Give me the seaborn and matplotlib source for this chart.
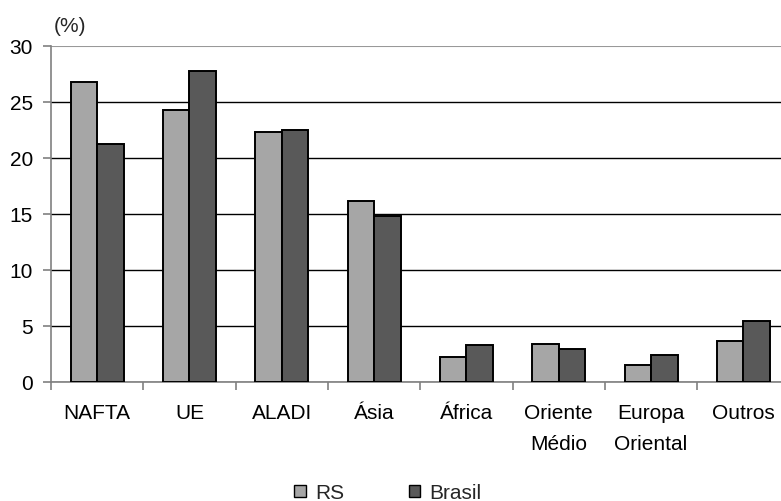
import matplotlib
matplotlib.use("Agg")
import matplotlib.pyplot as plt
from matplotlib.patches import Patch
import numpy as np
import pandas as pd
import seaborn as sns

# Participação por bloco econômico (%)
categories = ["NAFTA", "UE", "ALADI", "Ásia", "África", "Oriente\nMédio", "Europa\nOriental", "Outros"]
rs_values = [26.8, 24.3, 22.3, 16.1, 2.2, 3.4, 1.5, 3.6]
brasil_values = [21.2, 27.7, 22.5, 14.8, 3.3, 2.9, 2.4, 5.4]
series_names = ["RS", "Brasil"]
y_ticks = [0, 5, 10, 15, 20, 25, 30]

df = pd.DataFrame({
    "bloco": categories * 2,
    "serie": [series_names[0]] * len(categories) + [series_names[1]] * len(categories),
    "valor": rs_values + brasil_values,
})

sns.set_theme(style="white")
plt.rcParams["font.family"] = ["Liberation Sans", "DejaVu Sans"]
FS = 15
plt.rcParams["font.size"] = FS

colors = {"RS": "#a6a6a6", "Brasil": "#595959"}

fig = plt.figure(figsize=(7.81, 5.02), dpi=100)
ax = fig.add_axes([51 / 781, 1 - 382.7 / 502, (789.6 - 51) / 781, (382.7 - 46.7) / 502])

sns.barplot(data=df, x="bloco", y="valor", hue="serie", order=categories,
            hue_order=series_names, palette=colors, width=0.573, gap=0,
            edgecolor="black", linewidth=1.4, saturation=1, ax=ax,
            legend=False, zorder=3)

ax.set_xlim(-0.5, len(categories) - 0.5)
ax.set_ylim(0, 30)
ax.set_yticks(y_ticks)
ax.set_yticklabels([str(t) for t in y_ticks], fontsize=FS, color="black")
ax.set_xlabel("")
ax.set_ylabel("")

# horizontal gridlines
ax.yaxis.grid(True, color="black", linewidth=1.0, zorder=0)
ax.set_axisbelow(True)
grid_lines = ax.get_ygridlines()
grid_lines[-1].set_color("#999999")
grid_lines[-1].set_linewidth(1.5)

for side in ["top", "right"]:
    ax.spines[side].set_visible(False)
for side in ["left", "bottom"]:
    ax.spines[side].set_color("#808080")
    ax.spines[side].set_linewidth(1.2)

# category labels centered, tick marks on the boundaries
ax.set_xticks(np.arange(len(categories)))
ax.set_xticklabels(categories, fontsize=FS, color="black", linespacing=1.8)
ax.tick_params(axis="x", which="major", length=0, pad=15)
ax.set_xticks(np.arange(len(categories)) - 0.5, minor=True)
ax.tick_params(axis="x", which="minor", length=6, width=1.2, color="#808080", direction="out", bottom=True)
ax.tick_params(axis="y", length=6, width=1.2, color="#808080", direction="out", left=True, pad=7)
for lbl in ax.get_xticklabels():
    lbl.set_verticalalignment("top")

fig.text(70 / 781, 1 - 26 / 502, "(%)", ha="center", va="center", fontsize=FS)

handles = [Patch(facecolor=colors[s], edgecolor="black", linewidth=1.0, label=s) for s in series_names]
fig.legend(handles=handles, loc="center", bbox_to_anchor=(388 / 781, 1 - 494 / 502),
           ncol=2, frameon=False, fontsize=FS, handlelength=0.55, handleheight=0.55,
           handletextpad=0.45, columnspacing=3.1, borderpad=0)

fig.savefig("out.png", dpi=100)
